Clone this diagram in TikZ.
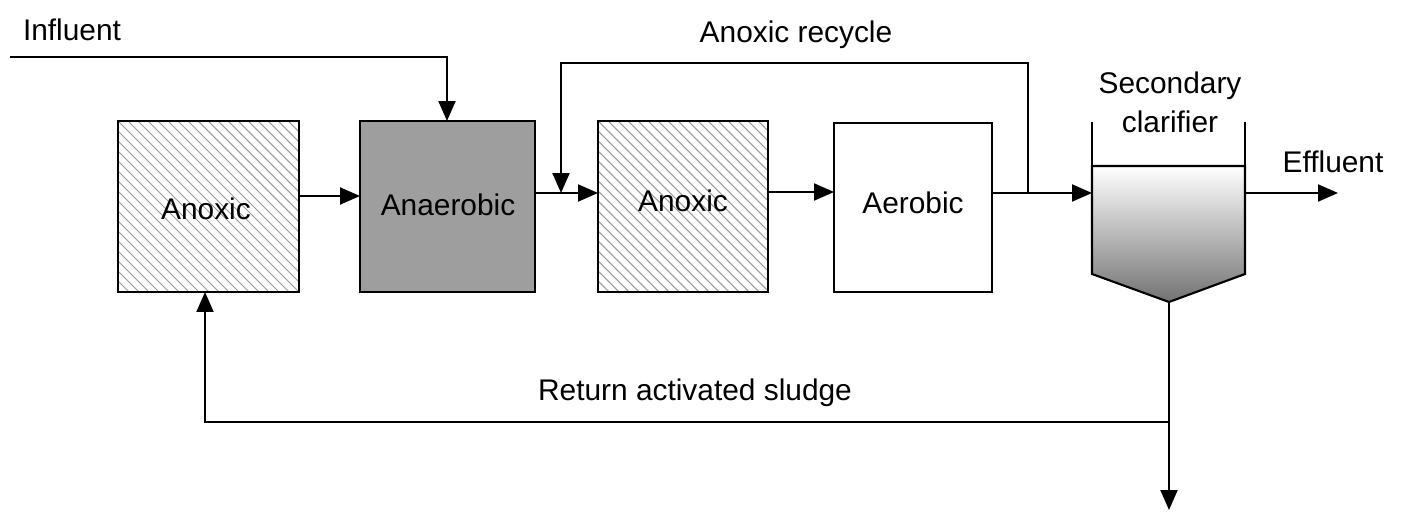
\documentclass[tikz,border=0pt]{standalone}
\usepackage{fontspec}
\setmainfont{Liberation Sans}
\usetikzlibrary{arrows.meta}
\begin{document}
\begin{tikzpicture}[x=0.02cm,y=-0.02cm,
  line width=1.2pt,
  arr/.style={-{Triangle[length=0.4cm,width=0.34cm]}},
  lbl/.style={font=\fontsize{17}{20}\selectfont,inner sep=0pt},
  box/.style={draw,minimum width=0pt}]
\useasboundingbox (0,0) rectangle (1426,513);
% hatched boxes
\foreach \xa/\xb in {118/299,598/768}{
  \begin{scope}
  \clip (\xa,121) rectangle (\xb,292);
  \foreach \k in {-200,-190,...,200}{
    \draw[line width=0.6pt,gray!80] (\xa+\k,121) -- (\xa+\k+171,292);}
  \end{scope}}
\coordinate (a1nw) at (118,121); \coordinate (a1se) at (299,292);
\draw (a1nw) rectangle (a1se);
\node[lbl] (an1) at (206,209) {Anoxic};
\draw[fill=black!38] (360,121) rectangle (535,292);
\node[lbl] (anae) at (448,205) {Anaerobic};
\draw (598,121) rectangle (768,292);
\node[lbl] (an2) at (683,201) {Anoxic};
\draw (834,123) rectangle (992,292);
\node[lbl] (aer) at (913,203) {Aerobic};
% clarifier
\shade[top color=white,bottom color=black!55] (1092,166) -- (1245,166) -- (1245,274) -- (1169,302) -- (1092,274) -- cycle;
\draw (1092,166) -- (1245,166) -- (1245,274) -- (1169,302) -- (1092,274) -- cycle;
\draw (1092,122) -- (1092,166) (1245,122) -- (1245,166);
\coordinate (apex) at (1169,302);
\node[lbl,align=center] (clar) at (1170,102) {Secondary\\[2pt]clarifier};
% labels
\node[lbl] (infl) at (72,30) {Influent};
\node[lbl] (rec) at (796,35) {Anoxic recycle};
\node[lbl] (eff) at (1333,162) {Effluent};
\node[lbl] (ras) at (695,393) {Return activated sludge};
% connectors
\coordinate (i0) at (10,57);
\draw[arr] (i0) -- (447,57) -- (447,121);
\draw[arr] (299,196) -- (360,196);
\draw[arr] (535,193) -- (598,193);
\draw[arr] (768,192) -- (834,192);
\draw[arr] (992,193) -- (1092,193);
\draw[arr] (1028,193) -- (1028,63) -- (561,63) -- (561,193);
\draw[arr] (1245,193) -- (1338,193);
\draw[arr] (apex) -- (1169,510);
\draw[arr] (1169,422) -- (205,422) -- (205,292);
\end{tikzpicture}
\end{document}
